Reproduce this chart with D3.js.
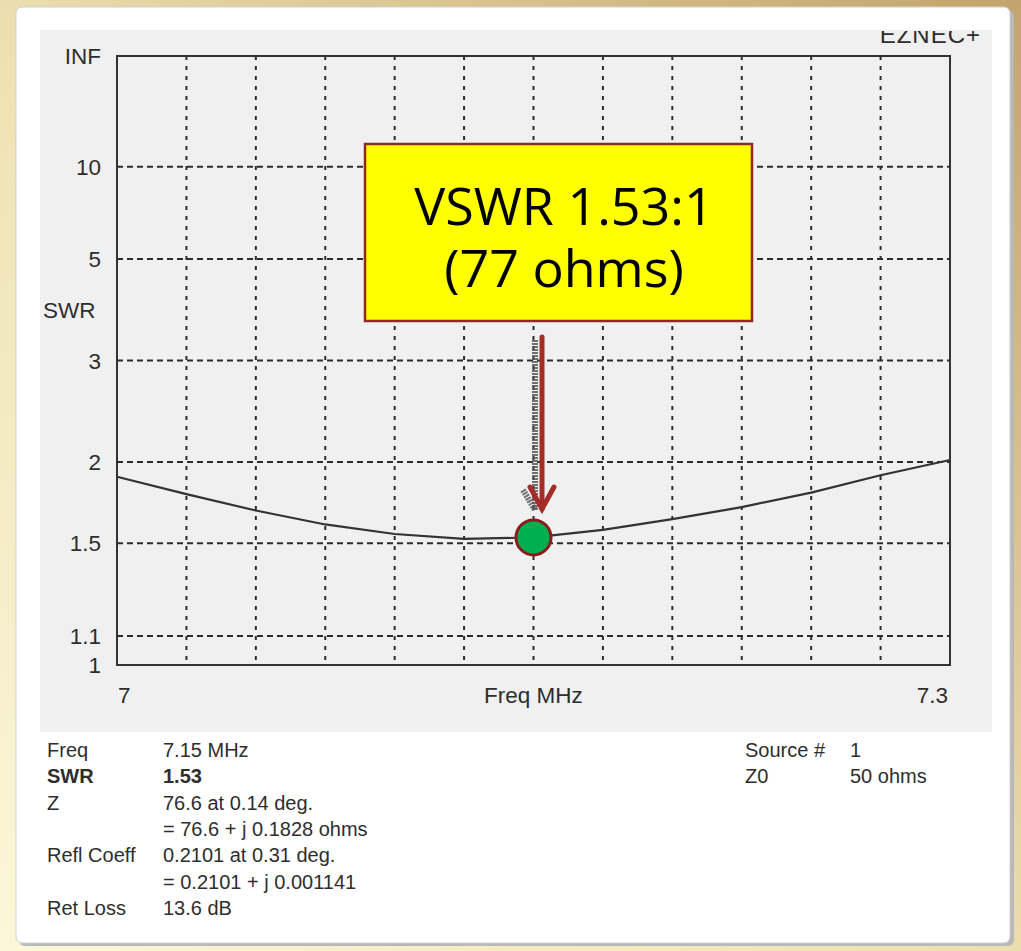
<!DOCTYPE html>
<html>
<head>
<meta charset="utf-8">
<script src="https://cdn.jsdelivr.net/npm/d3@7"></script>
<style>
  html, body { margin: 0; padding: 0; background: #fff; }
  svg { display: block; }
  .lbl { font-family: "Liberation Sans", Arial, sans-serif; fill: #2e2e2e; }
</style>
</head>
<body>
<svg id="chart" width="1021" height="951"></svg>
<script>
// SWR sweep, 7.0 - 7.3 MHz
const freqs = [7.0, 7.025, 7.05, 7.075, 7.1, 7.125, 7.15, 7.175, 7.2, 7.225, 7.25, 7.275, 7.3];
const swrValues = [1.895, 1.78, 1.68, 1.60, 1.548, 1.522, 1.53, 1.57, 1.63, 1.70, 1.79, 1.905, 2.015];
const swrTicks = [1, 1.1, 1.5, 2, 3, 5, 10, Infinity];
const swrTickLabels = ['1', '1.1', '1.5', '2', '3', '5', '10', 'INF'];
const gridSwr = [1.1, 1.5, 2, 3, 5, 10];
const marker = { freq: 7.15, swr: 1.53 };
const calloutLines = ['VSWR 1.53:1', '(77 ohms)'];
const infoLeft = [
  ['Freq', '7.15 MHz', false],
  ['SWR', '1.53', true],
  ['Z', '76.6 at 0.14 deg.', false],
  ['', '= 76.6 + j 0.1828 ohms', false],
  ['Refl Coeff', '0.2101 at 0.31 deg.', false],
  ['', '= 0.2101 + j 0.001141', false],
  ['Ret Loss', '13.6 dB', false]
];
const infoRight = [['Source #', '1'], ['Z0', '50 ohms']];

const svg = d3.select('#chart');
const W = 1021, H = 951;
const plot = { left: 117, right: 950, top: 56, bottom: 665 };

// page background
const defs = svg.append('defs');
const bg = defs.append('linearGradient').attr('id', 'bg')
  .attr('x1', 0).attr('y1', 1).attr('x2', 1).attr('y2', 0);
bg.append('stop').attr('offset', 0).attr('stop-color', '#fcf7d9');
bg.append('stop').attr('offset', 0.45).attr('stop-color', '#efe3b4');
bg.append('stop').attr('offset', 1).attr('stop-color', '#c3a46c');
svg.append('rect').attr('width', W).attr('height', H).attr('fill', 'url(#bg)');

defs.append('clipPath').attr('id', 'gray-clip')
  .append('rect').attr('x', 40).attr('y', 31).attr('width', 952).attr('height', 702);

// white panel with soft border
svg.append('rect').attr('x', 19).attr('y', 10).attr('width', 995).attr('height', 936)
  .attr('rx', 6).attr('fill', '#b8b8b8');
svg.append('rect').attr('x', 16).attr('y', 7).attr('width', 994).attr('height', 936)
  .attr('rx', 6).attr('fill', '#fff').attr('stroke', '#d0d0d0').attr('stroke-width', 1);

// gray chart area
svg.append('rect').attr('x', 40).attr('y', 30).attr('width', 952).attr('height', 702)
  .attr('fill', '#f0f0f0');

svg.append('text').attr('class', 'lbl')
  .attr('clip-path', 'url(#gray-clip)')
  .attr('x', 981).attr('y', 43).attr('text-anchor', 'end')
  .attr('font-size', 24).attr('letter-spacing', 1).text('EZNEC+');

// scales: SWR axis is linear in reflection coefficient
const x = d3.scaleLinear().domain([7, 7.3]).range([plot.left, plot.right]);
const yRho = d3.scaleLinear().domain([0, 1]).range([plot.bottom, plot.top]);
const rho = s => (s === Infinity ? 1 : (s - 1) / (s + 1));
const y = s => yRho(rho(s));

const g = svg.append('g');

// grid
g.selectAll('.vgrid').data(freqs.slice(1, -1)).enter().append('line')
  .attr('x1', d => x(d)).attr('x2', d => x(d))
  .attr('y1', plot.top).attr('y2', plot.bottom)
  .attr('stroke', '#2d2d2d').attr('stroke-width', 2).attr('stroke-dasharray', '4,6');
g.selectAll('.hgrid').data(gridSwr).enter().append('line')
  .attr('x1', plot.left).attr('x2', plot.right)
  .attr('y1', d => y(d)).attr('y2', d => y(d))
  .attr('stroke', '#2d2d2d').attr('stroke-width', 2).attr('stroke-dasharray', '6,4');

// frame
g.append('rect').attr('x', plot.left).attr('y', plot.top)
  .attr('width', plot.right - plot.left).attr('height', plot.bottom - plot.top)
  .attr('fill', 'none').attr('stroke', '#333').attr('stroke-width', 2);

// y tick labels
g.selectAll('.ytick').data(swrTicks).enter().append('text').attr('class', 'lbl')
  .attr('x', 101).attr('y', d => y(d)).attr('dy', '0.36em')
  .attr('text-anchor', 'end').attr('font-size', 22.5)
  .text((d, i) => swrTickLabels[i]);
g.append('text').attr('class', 'lbl').attr('x', 43).attr('y', 318)
  .attr('font-size', 22.5).text('SWR');

// x labels
g.append('text').attr('class', 'lbl').attr('x', x(7) + 1).attr('y', 703)
  .attr('font-size', 22.5).text('7');
g.append('text').attr('class', 'lbl').attr('x', x(7.15)).attr('y', 703)
  .attr('text-anchor', 'middle').attr('font-size', 22.5).text('Freq MHz');
g.append('text').attr('class', 'lbl').attr('x', x(7.3) - 2).attr('y', 703)
  .attr('text-anchor', 'end').attr('font-size', 22.5).text('7.3');

// SWR curve
const line = d3.line().x((d, i) => x(freqs[i])).y(d => y(d));
g.append('path').datum(swrValues).attr('d', line)
  .attr('fill', 'none').attr('stroke', '#333').attr('stroke-width', 2.2);

// callout box
const box = { x: 365, y: 144, w: 387, h: 177 };
g.append('rect').attr('x', box.x).attr('y', box.y).attr('width', box.w).attr('height', box.h)
  .attr('fill', '#ffff00').attr('stroke', '#8e2a26').attr('stroke-width', 2.5);
g.selectAll('.callout').data(calloutLines).enter().append('text')
  .attr('x', 564).attr('y', (d, i) => 225 + i * 62)
  .attr('text-anchor', 'middle')
  .attr('font-family', '"Open Sans", "Noto Sans", sans-serif')
  .attr('font-size', 52).attr('fill', '#000')
  .text(d => d);

// arrow with stippled shadow
const ax = 542, aTop = 337, aTip = 511;
const shadow = g.append('g').attr('transform', 'translate(-7,3)')
  .attr('stroke', '#5a5a5a').attr('stroke-opacity', 0.85).attr('fill', 'none')
  .attr('stroke-dasharray', '2,1');
shadow.append('line').attr('x1', ax).attr('x2', ax).attr('y1', aTop).attr('y2', aTip - 4)
  .attr('stroke-width', 6);
shadow.append('path').attr('d', `M${ax - 12},${aTip - 24} L${ax},${aTip - 4}`)
  .attr('stroke-width', 6);

const arrow = g.append('g').attr('stroke', '#a52d29').attr('fill', 'none')
  .attr('stroke-width', 5).attr('stroke-linecap', 'round');
arrow.append('line').attr('x1', ax).attr('x2', ax).attr('y1', aTop).attr('y2', aTip - 2);
arrow.append('path').attr('d', `M${ax - 12},${aTip - 24} L${ax},${aTip - 2} L${ax + 12},${aTip - 24}`)
  .attr('stroke-linejoin', 'miter');

// marker point
g.append('circle').attr('cx', x(marker.freq)).attr('cy', y(marker.swr)).attr('r', 17.5)
  .attr('fill', '#00b050').attr('stroke', '#8b1c1c').attr('stroke-width', 3);

// info table
const info = svg.append('g').attr('font-size', 20);
infoLeft.forEach((row, i) => {
  const yy = 757 + i * 26.3;
  info.append('text').attr('class', 'lbl').attr('x', 47).attr('y', yy)
    .attr('font-weight', row[2] ? 'bold' : 'normal').text(row[0]);
  info.append('text').attr('class', 'lbl').attr('x', 163).attr('y', yy)
    .attr('font-weight', row[2] ? 'bold' : 'normal').text(row[1]);
});
infoRight.forEach((row, i) => {
  const yy = 757 + i * 26.3;
  info.append('text').attr('class', 'lbl').attr('x', 745).attr('y', yy).text(row[0]);
  info.append('text').attr('class', 'lbl').attr('x', 850).attr('y', yy).text(row[1]);
});
</script>
</body>
</html>
